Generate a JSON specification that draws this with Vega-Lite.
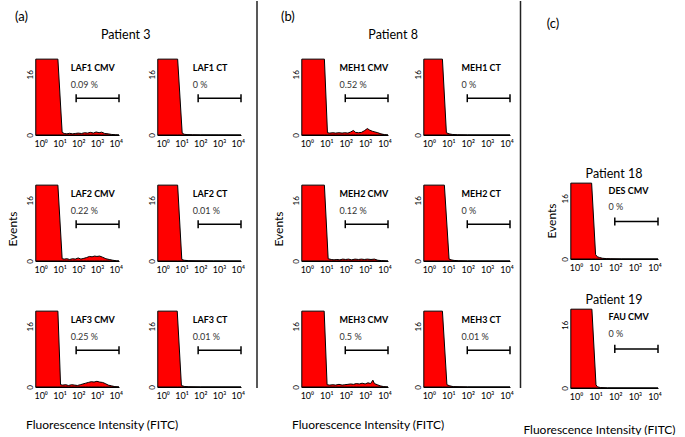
{
  "$schema": "https://vega.github.io/schema/vega-lite/v6.json",
  "padding": {"left": 6, "top": 0, "right": 0, "bottom": 0},
  "background": "white",
  "config": {
    "font": "Lato",
    "view": {"stroke": null},
    "title": {"fontSize": 12.5, "fontWeight": "normal", "color": "black"},
    "header": {"titleFontSize": 12, "titleFontWeight": "normal", "titleColor": "black", "labelPadding": 0}
  },
  "datasets": {
    "Apos": [
      {"p": "LAF1 CMV", "r": 1, "c": 1}, {"p": "LAF1 CT", "r": 1, "c": 2},
      {"p": "LAF2 CMV", "r": 2, "c": 1}, {"p": "LAF2 CT", "r": 2, "c": 2},
      {"p": "LAF3 CMV", "r": 3, "c": 1}, {"p": "LAF3 CT", "r": 3, "c": 2}
    ],
    "Bpos": [
      {"p": "MEH1 CMV", "r": 1, "c": 1}, {"p": "MEH1 CT", "r": 1, "c": 2},
      {"p": "MEH2 CMV", "r": 2, "c": 1}, {"p": "MEH2 CT", "r": 2, "c": 2},
      {"p": "MEH3 CMV", "r": 3, "c": 1}, {"p": "MEH3 CT", "r": 3, "c": 2}
    ],
    "A": [
      {"p": "LAF1 CMV", "k": "l", "pct": "0.09 %"},
      {"p": "LAF1 CT", "k": "l", "pct": "0 %"},
      {"p": "LAF2 CMV", "k": "l", "pct": "0.22 %"},
      {"p": "LAF2 CT", "k": "l", "pct": "0.01 %"},
      {"p": "LAF3 CMV", "k": "l", "pct": "0.25 %"},
      {"p": "LAF3 CT", "k": "l", "pct": "0.01 %"},
      {"p": "LAF1 CMV", "fl": 0.55, "ev": 20}, {"p": "LAF1 CMV", "fl": 8.3, "ev": 20}, {"p": "LAF1 CMV", "fl": 14, "ev": 0.7},
      {"p": "LAF1 CMV", "fl": 18, "ev": 0.4}, {"p": "LAF1 CMV", "fl": 25, "ev": 0.3}, {"p": "LAF1 CMV", "fl": 35, "ev": 0.45},
      {"p": "LAF1 CMV", "fl": 50, "ev": 0.3}, {"p": "LAF1 CMV", "fl": 70, "ev": 0.4}, {"p": "LAF1 CMV", "fl": 100, "ev": 0.5},
      {"p": "LAF1 CMV", "fl": 150, "ev": 0.4}, {"p": "LAF1 CMV", "fl": 220, "ev": 0.6}, {"p": "LAF1 CMV", "fl": 320, "ev": 0.5},
      {"p": "LAF1 CMV", "fl": 450, "ev": 0.7}, {"p": "LAF1 CMV", "fl": 650, "ev": 0.5}, {"p": "LAF1 CMV", "fl": 900, "ev": 0.8},
      {"p": "LAF1 CMV", "fl": 1300, "ev": 0.6}, {"p": "LAF1 CMV", "fl": 1800, "ev": 0.75}, {"p": "LAF1 CMV", "fl": 2600, "ev": 0.4},
      {"p": "LAF1 CMV", "fl": 4000, "ev": 0.3}, {"p": "LAF1 CMV", "fl": 6000, "ev": 0.15}, {"p": "LAF1 CMV", "fl": 10000, "ev": 0.05},
      {"p": "LAF1 CMV", "fl": 15000, "ev": 0},
      {"p": "LAF1 CT", "fl": 0.55, "ev": 20}, {"p": "LAF1 CT", "fl": 6.3, "ev": 20}, {"p": "LAF1 CT", "fl": 11, "ev": 0.5},
      {"p": "LAF1 CT", "fl": 14, "ev": 0.2}, {"p": "LAF1 CT", "fl": 20, "ev": 0.1}, {"p": "LAF1 CT", "fl": 40, "ev": 0.05},
      {"p": "LAF1 CT", "fl": 100, "ev": 0.03}, {"p": "LAF1 CT", "fl": 1000, "ev": 0.02}, {"p": "LAF1 CT", "fl": 15000, "ev": 0},
      {"p": "LAF2 CMV", "fl": 0.55, "ev": 20}, {"p": "LAF2 CMV", "fl": 8.3, "ev": 20}, {"p": "LAF2 CMV", "fl": 14, "ev": 0.6},
      {"p": "LAF2 CMV", "fl": 18, "ev": 0.5}, {"p": "LAF2 CMV", "fl": 25, "ev": 0.6}, {"p": "LAF2 CMV", "fl": 35, "ev": 0.4},
      {"p": "LAF2 CMV", "fl": 50, "ev": 0.6}, {"p": "LAF2 CMV", "fl": 70, "ev": 0.5}, {"p": "LAF2 CMV", "fl": 100, "ev": 0.8},
      {"p": "LAF2 CMV", "fl": 140, "ev": 0.5}, {"p": "LAF2 CMV", "fl": 200, "ev": 0.7}, {"p": "LAF2 CMV", "fl": 280, "ev": 0.9},
      {"p": "LAF2 CMV", "fl": 400, "ev": 1.2}, {"p": "LAF2 CMV", "fl": 550, "ev": 1.1}, {"p": "LAF2 CMV", "fl": 750, "ev": 1.3},
      {"p": "LAF2 CMV", "fl": 1000, "ev": 1.2}, {"p": "LAF2 CMV", "fl": 1400, "ev": 1.3}, {"p": "LAF2 CMV", "fl": 2000, "ev": 1.0},
      {"p": "LAF2 CMV", "fl": 3000, "ev": 0.6}, {"p": "LAF2 CMV", "fl": 4500, "ev": 0.4}, {"p": "LAF2 CMV", "fl": 7000, "ev": 0.2},
      {"p": "LAF2 CMV", "fl": 11000, "ev": 0.05}, {"p": "LAF2 CMV", "fl": 15000, "ev": 0},
      {"p": "LAF2 CT", "fl": 0.55, "ev": 20}, {"p": "LAF2 CT", "fl": 6.3, "ev": 20}, {"p": "LAF2 CT", "fl": 10.5, "ev": 0.4},
      {"p": "LAF2 CT", "fl": 14, "ev": 0.2}, {"p": "LAF2 CT", "fl": 25, "ev": 0.08}, {"p": "LAF2 CT", "fl": 60, "ev": 0.04},
      {"p": "LAF2 CT", "fl": 500, "ev": 0.02}, {"p": "LAF2 CT", "fl": 15000, "ev": 0},
      {"p": "LAF3 CMV", "fl": 0.55, "ev": 20}, {"p": "LAF3 CMV", "fl": 8.3, "ev": 20}, {"p": "LAF3 CMV", "fl": 11.5, "ev": 0.6},
      {"p": "LAF3 CMV", "fl": 15, "ev": 0.5}, {"p": "LAF3 CMV", "fl": 22, "ev": 0.6}, {"p": "LAF3 CMV", "fl": 30, "ev": 0.4},
      {"p": "LAF3 CMV", "fl": 45, "ev": 0.6}, {"p": "LAF3 CMV", "fl": 65, "ev": 0.5}, {"p": "LAF3 CMV", "fl": 90, "ev": 0.4},
      {"p": "LAF3 CMV", "fl": 130, "ev": 0.6}, {"p": "LAF3 CMV", "fl": 180, "ev": 0.8}, {"p": "LAF3 CMV", "fl": 250, "ev": 1.0},
      {"p": "LAF3 CMV", "fl": 350, "ev": 1.2}, {"p": "LAF3 CMV", "fl": 500, "ev": 1.4}, {"p": "LAF3 CMV", "fl": 700, "ev": 1.3},
      {"p": "LAF3 CMV", "fl": 1000, "ev": 1.5}, {"p": "LAF3 CMV", "fl": 1400, "ev": 1.3}, {"p": "LAF3 CMV", "fl": 2000, "ev": 1.2},
      {"p": "LAF3 CMV", "fl": 2800, "ev": 0.9}, {"p": "LAF3 CMV", "fl": 4000, "ev": 0.5}, {"p": "LAF3 CMV", "fl": 6000, "ev": 0.3},
      {"p": "LAF3 CMV", "fl": 9000, "ev": 0.1}, {"p": "LAF3 CMV", "fl": 15000, "ev": 0},
      {"p": "LAF3 CT", "fl": 0.55, "ev": 20}, {"p": "LAF3 CT", "fl": 6, "ev": 20}, {"p": "LAF3 CT", "fl": 10, "ev": 0.4},
      {"p": "LAF3 CT", "fl": 14, "ev": 0.15}, {"p": "LAF3 CT", "fl": 25, "ev": 0.05}, {"p": "LAF3 CT", "fl": 100, "ev": 0.02},
      {"p": "LAF3 CT", "fl": 15000, "ev": 0}
    ],
    "B": [
      {"p": "MEH1 CMV", "k": "l", "pct": "0.52 %"},
      {"p": "MEH1 CT", "k": "l", "pct": "0 %"},
      {"p": "MEH2 CMV", "k": "l", "pct": "0.12 %"},
      {"p": "MEH2 CT", "k": "l", "pct": "0 %"},
      {"p": "MEH3 CMV", "k": "l", "pct": "0.5 %"},
      {"p": "MEH3 CT", "k": "l", "pct": "0.01 %"},
      {"p": "MEH1 CMV", "fl": 0.55, "ev": 20}, {"p": "MEH1 CMV", "fl": 8, "ev": 20}, {"p": "MEH1 CMV", "fl": 11.5, "ev": 0.6},
      {"p": "MEH1 CMV", "fl": 15, "ev": 0.5}, {"p": "MEH1 CMV", "fl": 22, "ev": 0.6}, {"p": "MEH1 CMV", "fl": 30, "ev": 0.5},
      {"p": "MEH1 CMV", "fl": 45, "ev": 0.6}, {"p": "MEH1 CMV", "fl": 65, "ev": 0.5}, {"p": "MEH1 CMV", "fl": 90, "ev": 0.6},
      {"p": "MEH1 CMV", "fl": 130, "ev": 0.5}, {"p": "MEH1 CMV", "fl": 180, "ev": 0.8}, {"p": "MEH1 CMV", "fl": 250, "ev": 1.2},
      {"p": "MEH1 CMV", "fl": 320, "ev": 0.7}, {"p": "MEH1 CMV", "fl": 450, "ev": 0.6}, {"p": "MEH1 CMV", "fl": 650, "ev": 0.7},
      {"p": "MEH1 CMV", "fl": 900, "ev": 1.1}, {"p": "MEH1 CMV", "fl": 1300, "ev": 1.7}, {"p": "MEH1 CMV", "fl": 1700, "ev": 1.3},
      {"p": "MEH1 CMV", "fl": 2300, "ev": 1.0}, {"p": "MEH1 CMV", "fl": 3200, "ev": 0.8}, {"p": "MEH1 CMV", "fl": 4500, "ev": 0.6},
      {"p": "MEH1 CMV", "fl": 6500, "ev": 0.3}, {"p": "MEH1 CMV", "fl": 10000, "ev": 0.1}, {"p": "MEH1 CMV", "fl": 15000, "ev": 0},
      {"p": "MEH1 CT", "fl": 0.55, "ev": 20}, {"p": "MEH1 CT", "fl": 5, "ev": 20}, {"p": "MEH1 CT", "fl": 8, "ev": 0.6},
      {"p": "MEH1 CT", "fl": 11, "ev": 0.3}, {"p": "MEH1 CT", "fl": 16, "ev": 0.15}, {"p": "MEH1 CT", "fl": 30, "ev": 0.05},
      {"p": "MEH1 CT", "fl": 100, "ev": 0.02}, {"p": "MEH1 CT", "fl": 15000, "ev": 0},
      {"p": "MEH2 CMV", "fl": 0.55, "ev": 20}, {"p": "MEH2 CMV", "fl": 8, "ev": 20}, {"p": "MEH2 CMV", "fl": 12.5, "ev": 0.6},
      {"p": "MEH2 CMV", "fl": 18, "ev": 0.4}, {"p": "MEH2 CMV", "fl": 25, "ev": 0.3}, {"p": "MEH2 CMV", "fl": 35, "ev": 0.4},
      {"p": "MEH2 CMV", "fl": 50, "ev": 0.3}, {"p": "MEH2 CMV", "fl": 70, "ev": 0.5}, {"p": "MEH2 CMV", "fl": 100, "ev": 0.4},
      {"p": "MEH2 CMV", "fl": 140, "ev": 0.5}, {"p": "MEH2 CMV", "fl": 200, "ev": 0.3}, {"p": "MEH2 CMV", "fl": 300, "ev": 0.5},
      {"p": "MEH2 CMV", "fl": 450, "ev": 0.4}, {"p": "MEH2 CMV", "fl": 650, "ev": 0.5}, {"p": "MEH2 CMV", "fl": 900, "ev": 0.4},
      {"p": "MEH2 CMV", "fl": 1300, "ev": 0.5}, {"p": "MEH2 CMV", "fl": 2000, "ev": 0.4}, {"p": "MEH2 CMV", "fl": 3000, "ev": 0.5},
      {"p": "MEH2 CMV", "fl": 4500, "ev": 0.2}, {"p": "MEH2 CMV", "fl": 7000, "ev": 0.1}, {"p": "MEH2 CMV", "fl": 15000, "ev": 0},
      {"p": "MEH2 CT", "fl": 0.55, "ev": 20}, {"p": "MEH2 CT", "fl": 6.3, "ev": 20}, {"p": "MEH2 CT", "fl": 11, "ev": 0.5},
      {"p": "MEH2 CT", "fl": 14, "ev": 0.3}, {"p": "MEH2 CT", "fl": 20, "ev": 0.15}, {"p": "MEH2 CT", "fl": 35, "ev": 0.05},
      {"p": "MEH2 CT", "fl": 100, "ev": 0.02}, {"p": "MEH2 CT", "fl": 15000, "ev": 0},
      {"p": "MEH3 CMV", "fl": 0.55, "ev": 20}, {"p": "MEH3 CMV", "fl": 7.8, "ev": 20}, {"p": "MEH3 CMV", "fl": 11, "ev": 0.6},
      {"p": "MEH3 CMV", "fl": 15, "ev": 0.5}, {"p": "MEH3 CMV", "fl": 22, "ev": 0.6}, {"p": "MEH3 CMV", "fl": 30, "ev": 0.5},
      {"p": "MEH3 CMV", "fl": 45, "ev": 0.7}, {"p": "MEH3 CMV", "fl": 65, "ev": 0.5}, {"p": "MEH3 CMV", "fl": 90, "ev": 0.6},
      {"p": "MEH3 CMV", "fl": 130, "ev": 0.7}, {"p": "MEH3 CMV", "fl": 180, "ev": 0.8}, {"p": "MEH3 CMV", "fl": 250, "ev": 0.7},
      {"p": "MEH3 CMV", "fl": 350, "ev": 0.9}, {"p": "MEH3 CMV", "fl": 500, "ev": 0.8}, {"p": "MEH3 CMV", "fl": 700, "ev": 1.0},
      {"p": "MEH3 CMV", "fl": 1000, "ev": 0.8}, {"p": "MEH3 CMV", "fl": 1400, "ev": 1.1}, {"p": "MEH3 CMV", "fl": 1900, "ev": 0.9},
      {"p": "MEH3 CMV", "fl": 2500, "ev": 1.8}, {"p": "MEH3 CMV", "fl": 3000, "ev": 0.9}, {"p": "MEH3 CMV", "fl": 4200, "ev": 0.6},
      {"p": "MEH3 CMV", "fl": 6000, "ev": 0.3}, {"p": "MEH3 CMV", "fl": 9000, "ev": 0.1}, {"p": "MEH3 CMV", "fl": 15000, "ev": 0},
      {"p": "MEH3 CT", "fl": 0.55, "ev": 20}, {"p": "MEH3 CT", "fl": 5, "ev": 20}, {"p": "MEH3 CT", "fl": 8.5, "ev": 0.6},
      {"p": "MEH3 CT", "fl": 12, "ev": 0.3}, {"p": "MEH3 CT", "fl": 18, "ev": 0.1}, {"p": "MEH3 CT", "fl": 40, "ev": 0.05},
      {"p": "MEH3 CT", "fl": 100, "ev": 0.02}, {"p": "MEH3 CT", "fl": 15000, "ev": 0}
    ],
    "C": [
      {"p": "DES CMV", "k": "l", "pct": "0 %"},
      {"p": "FAU CMV", "k": "l", "pct": "0 %"},
      {"p": "DES CMV", "fl": 0.55, "ev": 20}, {"p": "DES CMV", "fl": 6.3, "ev": 20}, {"p": "DES CMV", "fl": 10, "ev": 1.2},
      {"p": "DES CMV", "fl": 12, "ev": 0.6}, {"p": "DES CMV", "fl": 16, "ev": 0.4}, {"p": "DES CMV", "fl": 22, "ev": 0.2},
      {"p": "DES CMV", "fl": 35, "ev": 0.1}, {"p": "DES CMV", "fl": 60, "ev": 0.05}, {"p": "DES CMV", "fl": 200, "ev": 0.02},
      {"p": "DES CMV", "fl": 15000, "ev": 0},
      {"p": "FAU CMV", "fl": 0.55, "ev": 20}, {"p": "FAU CMV", "fl": 6.5, "ev": 20}, {"p": "FAU CMV", "fl": 10.5, "ev": 0.8},
      {"p": "FAU CMV", "fl": 12.5, "ev": 0.3}, {"p": "FAU CMV", "fl": 18, "ev": 0.1}, {"p": "FAU CMV", "fl": 40, "ev": 0.03},
      {"p": "FAU CMV", "fl": 15000, "ev": 0}
    ]
  },
  "spacing": 0,
  "hconcat": [
    {
      "title": {"text": "(a)", "anchor": "start", "dx": 8, "offset": 5, "fontSize": 13},
      "vconcat": [
        {
          "data": {"name": "A"},
          "transform": [{"lookup": "p", "from": {"data": {"name": "Apos"}, "key": "p", "fields": ["r", "c"]}}],
          "title": {"text": "Patient 3", "anchor": "middle", "offset": 17},
          "facet": {
            "row": {"field": "r", "type": "ordinal", "title": "Events", "header": {"labels": false, "titlePadding": -4}},
            "column": {"field": "c", "type": "ordinal", "title": "Fluorescence Intensity (FITC)", "header": {"labels": false, "orient": "bottom", "titleAnchor": "start", "titlePadding": 10}}
          },
          "spacing": {"row": 36, "column": 25},
          "resolve": {"axis": {"x": "independent", "y": "independent"}},
          "spec": {
            "width": 84,
            "height": 77,
            "layer": [
              {
                "transform": [{"filter": "datum.k !== 'l'"}],
                "mark": {"type": "area", "fill": "#ff0000", "stroke": "black", "strokeWidth": 1, "clip": true},
                "encoding": {
                  "x": {"field": "fl", "type": "quantitative", "scale": {"type": "log", "domain": [0.5, 15000], "nice": false},
                    "axis": {"title": null, "values": [1, 10, 100, 1000, 10000], "labelExpr": "'10' + ['⁰','¹','²','³','⁴'][round(log(datum.value)/LN10)]", "ticks": false, "tickSize": 0, "grid": false, "domainColor": "black", "labelFontSize": 9, "labelColor": "black", "labelPadding": 4, "labelFlush": false, "labelOverlap": false}},
                  "y": {"field": "ev", "type": "quantitative", "scale": {"domain": [0, 20.3], "nice": false, "zero": true},
                    "axis": {"title": null, "values": [0, 16], "labelAngle": 270, "labelAlign": "center", "labelBaseline": "bottom", "ticks": false, "tickSize": 0, "domain": false, "grid": false, "labelFontSize": 8, "labelColor": "black", "labelPadding": 1, "labelFlush": false}}
                }
              },
              {
                "transform": [{"filter": "datum.k === 'l'"}],
                "mark": {"type": "rule", "color": "black", "strokeWidth": 1.5},
                "encoding": {"x": {"datum": 78, "type": "quantitative"}, "x2": {"datum": 15000}, "y": {"datum": 9.7, "type": "quantitative"}}
              },
              {
                "transform": [{"filter": "datum.k === 'l'"}],
                "mark": {"type": "rule", "color": "black", "strokeWidth": 1.5},
                "encoding": {"x": {"datum": 78, "type": "quantitative"}, "y": {"datum": 8.65, "type": "quantitative"}, "y2": {"datum": 10.75}}
              },
              {
                "transform": [{"filter": "datum.k === 'l'"}],
                "mark": {"type": "rule", "color": "black", "strokeWidth": 1.5},
                "encoding": {"x": {"datum": 15000, "type": "quantitative"}, "y": {"datum": 8.65, "type": "quantitative"}, "y2": {"datum": 10.75}}
              },
              {
                "transform": [{"filter": "datum.k === 'l'"}],
                "mark": {"type": "text", "align": "left", "baseline": "middle", "fontWeight": "bold", "fontSize": 9, "color": "black"},
                "encoding": {"x": {"datum": 40, "type": "quantitative"}, "y": {"datum": 17.7, "type": "quantitative"}, "text": {"field": "p"}}
              },
              {
                "transform": [{"filter": "datum.k === 'l'"}],
                "mark": {"type": "text", "align": "left", "baseline": "middle", "fontSize": 9, "color": "#333"},
                "encoding": {"x": {"datum": 40, "type": "quantitative"}, "y": {"datum": 13.3, "type": "quantitative"}, "text": {"field": "pct"}}
              }
            ]
          }
        }
      ]
    },
    {
      "data": {"values": [{}]},
      "width": 27,
      "height": 330,
      "mark": {"type": "rule", "color": "#222", "strokeWidth": 1.5},
      "encoding": {
        "x": {"datum": 12, "type": "quantitative", "scale": {"domain": [0, 27], "nice": false}, "axis": null},
        "y": {"datum": 0, "type": "quantitative", "scale": {"domain": [0, 1], "nice": false}, "axis": null},
        "y2": {"datum": 1.1727}
      }
    },
    {
      "title": {"text": "(b)", "anchor": "start", "dx": 8, "offset": 5, "fontSize": 13},
      "vconcat": [
        {
          "data": {"name": "B"},
          "transform": [{"lookup": "p", "from": {"data": {"name": "Bpos"}, "key": "p", "fields": ["r", "c"]}}],
          "title": {"text": "Patient 8", "anchor": "middle", "offset": 17},
          "facet": {
            "row": {"field": "r", "type": "ordinal", "title": "Events", "header": {"labels": false, "titlePadding": -4}},
            "column": {"field": "c", "type": "ordinal", "title": "Fluorescence Intensity (FITC)", "header": {"labels": false, "orient": "bottom", "titleAnchor": "start", "titlePadding": 10}}
          },
          "spacing": {"row": 36, "column": 22},
          "resolve": {"axis": {"x": "independent", "y": "independent"}},
          "spec": {
            "width": 87,
            "height": 77,
            "layer": [
              {
                "transform": [{"filter": "datum.k !== 'l'"}],
                "mark": {"type": "area", "fill": "#ff0000", "stroke": "black", "strokeWidth": 1, "clip": true},
                "encoding": {
                  "x": {"field": "fl", "type": "quantitative", "scale": {"type": "log", "domain": [0.5, 15000], "nice": false},
                    "axis": {"title": null, "values": [1, 10, 100, 1000, 10000], "labelExpr": "'10' + ['⁰','¹','²','³','⁴'][round(log(datum.value)/LN10)]", "ticks": false, "tickSize": 0, "grid": false, "domainColor": "black", "labelFontSize": 9, "labelColor": "black", "labelPadding": 4, "labelFlush": false, "labelOverlap": false}},
                  "y": {"field": "ev", "type": "quantitative", "scale": {"domain": [0, 20.3], "nice": false, "zero": true},
                    "axis": {"title": null, "values": [0, 16], "labelAngle": 270, "labelAlign": "center", "labelBaseline": "bottom", "ticks": false, "tickSize": 0, "domain": false, "grid": false, "labelFontSize": 8, "labelColor": "black", "labelPadding": 1, "labelFlush": false}}
                }
              },
              {
                "transform": [{"filter": "datum.k === 'l'"}],
                "mark": {"type": "rule", "color": "black", "strokeWidth": 1.5},
                "encoding": {"x": {"datum": 95, "type": "quantitative"}, "x2": {"datum": 15000}, "y": {"datum": 9.7, "type": "quantitative"}}
              },
              {
                "transform": [{"filter": "datum.k === 'l'"}],
                "mark": {"type": "rule", "color": "black", "strokeWidth": 1.5},
                "encoding": {"x": {"datum": 95, "type": "quantitative"}, "y": {"datum": 8.65, "type": "quantitative"}, "y2": {"datum": 10.75}}
              },
              {
                "transform": [{"filter": "datum.k === 'l'"}],
                "mark": {"type": "rule", "color": "black", "strokeWidth": 1.5},
                "encoding": {"x": {"datum": 15000, "type": "quantitative"}, "y": {"datum": 8.65, "type": "quantitative"}, "y2": {"datum": 10.75}}
              },
              {
                "transform": [{"filter": "datum.k === 'l'"}],
                "mark": {"type": "text", "align": "left", "baseline": "middle", "fontWeight": "bold", "fontSize": 9, "color": "black"},
                "encoding": {"x": {"datum": 48, "type": "quantitative"}, "y": {"datum": 17.7, "type": "quantitative"}, "text": {"field": "p"}}
              },
              {
                "transform": [{"filter": "datum.k === 'l'"}],
                "mark": {"type": "text", "align": "left", "baseline": "middle", "fontSize": 9, "color": "#333"},
                "encoding": {"x": {"datum": 48, "type": "quantitative"}, "y": {"datum": 13.3, "type": "quantitative"}, "text": {"field": "pct"}}
              }
            ]
          }
        }
      ]
    },
    {
      "data": {"values": [{}]},
      "width": 7,
      "height": 330,
      "mark": {"type": "rule", "color": "#222", "strokeWidth": 1.5},
      "encoding": {
        "x": {"datum": 6.5, "type": "quantitative", "scale": {"domain": [0, 7], "nice": false}, "axis": null},
        "y": {"datum": 0, "type": "quantitative", "scale": {"domain": [0, 1], "nice": false}, "axis": null},
        "y2": {"datum": 1.1727}
      }
    },
    {
      "title": {"text": "(c)", "anchor": "start", "dx": 24, "offset": 27, "fontSize": 13},
      "spacing": 21,
      "vconcat": [
        {
          "data": {"values": [{}]},
          "width": 88,
          "height": 88,
          "mark": {"type": "rule", "opacity": 0},
          "encoding": {}
        },
        {
          "data": {"name": "C"},
          "transform": [{"filter": "datum.p === 'DES CMV'"}],
          "title": {"text": "Patient 18", "offset": 2},
          "width": 88,
          "height": 77,
          "layer": [
            {
              "transform": [{"filter": "datum.k !== 'l'"}],
              "mark": {"type": "area", "fill": "#ff0000", "stroke": "black", "strokeWidth": 1, "clip": true},
              "encoding": {
                "x": {"field": "fl", "type": "quantitative", "scale": {"type": "log", "domain": [0.5, 15000], "nice": false},
                  "axis": {"title": null, "values": [1, 10, 100, 1000, 10000], "labelExpr": "'10' + ['⁰','¹','²','³','⁴'][round(log(datum.value)/LN10)]", "ticks": false, "tickSize": 0, "grid": false, "domainColor": "black", "labelFontSize": 9, "labelColor": "black", "labelPadding": 4, "labelFlush": false, "labelOverlap": false}},
                "y": {"field": "ev", "type": "quantitative", "scale": {"domain": [0, 20.3], "nice": false, "zero": true},
                  "axis": {"title": "Events", "titleFontSize": 12, "titleFontWeight": "normal", "titleColor": "black", "titlePadding": 3, "values": [0, 16], "labelAngle": 270, "labelAlign": "center", "labelBaseline": "bottom", "ticks": false, "tickSize": 0, "domain": false, "grid": false, "labelFontSize": 8, "labelColor": "black", "labelPadding": 1, "labelFlush": false}}
              }
            },
            {
              "transform": [{"filter": "datum.k === 'l'"}],
              "mark": {"type": "rule", "color": "black", "strokeWidth": 1.5},
              "encoding": {"x": {"datum": 95, "type": "quantitative"}, "x2": {"datum": 15000}, "y": {"datum": 9.9, "type": "quantitative"}}
            },
            {
              "transform": [{"filter": "datum.k === 'l'"}],
              "mark": {"type": "rule", "color": "black", "strokeWidth": 1.5},
              "encoding": {"x": {"datum": 95, "type": "quantitative"}, "y": {"datum": 8.85, "type": "quantitative"}, "y2": {"datum": 10.95}}
            },
            {
              "transform": [{"filter": "datum.k === 'l'"}],
              "mark": {"type": "rule", "color": "black", "strokeWidth": 1.5},
              "encoding": {"x": {"datum": 15000, "type": "quantitative"}, "y": {"datum": 8.85, "type": "quantitative"}, "y2": {"datum": 10.95}}
            },
            {
              "transform": [{"filter": "datum.k === 'l'"}],
              "mark": {"type": "text", "align": "left", "baseline": "middle", "fontWeight": "bold", "fontSize": 9, "color": "black"},
              "encoding": {"x": {"datum": 46, "type": "quantitative"}, "y": {"datum": 17.9, "type": "quantitative"}, "text": {"field": "p"}}
            },
            {
              "transform": [{"filter": "datum.k === 'l'"}],
              "mark": {"type": "text", "align": "left", "baseline": "middle", "fontSize": 9, "color": "#333"},
              "encoding": {"x": {"datum": 46, "type": "quantitative"}, "y": {"datum": 13.8, "type": "quantitative"}, "text": {"field": "pct"}}
            }
          ]
        },
        {
          "data": {"name": "C"},
          "transform": [{"filter": "datum.p === 'FAU CMV'"}],
          "title": {"text": "Patient 19", "offset": 2},
          "width": 88,
          "height": 80,
          "layer": [
            {
              "transform": [{"filter": "datum.k !== 'l'"}],
              "mark": {"type": "area", "fill": "#ff0000", "stroke": "black", "strokeWidth": 1, "clip": true},
              "encoding": {
                "x": {"field": "fl", "type": "quantitative", "scale": {"type": "log", "domain": [0.5, 15000], "nice": false},
                  "axis": {"title": "Fluorescence Intensity (FITC)", "titleFontSize": 12, "titleFontWeight": "normal", "titleColor": "black", "titlePadding": 23, "titleX": 29, "titleAlign": "center", "values": [1, 10, 100, 1000, 10000], "labelExpr": "'10' + ['⁰','¹','²','³','⁴'][round(log(datum.value)/LN10)]", "ticks": false, "tickSize": 0, "grid": false, "domainColor": "black", "labelFontSize": 9, "labelColor": "black", "labelPadding": 4, "labelFlush": false, "labelOverlap": false}},
                "y": {"field": "ev", "type": "quantitative", "scale": {"domain": [0, 20.3], "nice": false, "zero": true},
                  "axis": {"title": null, "values": [0, 16], "labelAngle": 270, "labelAlign": "center", "labelBaseline": "bottom", "ticks": false, "tickSize": 0, "domain": false, "grid": false, "labelFontSize": 8, "labelColor": "black", "labelPadding": 1, "labelFlush": false}}
              }
            },
            {
              "transform": [{"filter": "datum.k === 'l'"}],
              "mark": {"type": "rule", "color": "black", "strokeWidth": 1.5},
              "encoding": {"x": {"datum": 95, "type": "quantitative"}, "x2": {"datum": 15000}, "y": {"datum": 9.9, "type": "quantitative"}}
            },
            {
              "transform": [{"filter": "datum.k === 'l'"}],
              "mark": {"type": "rule", "color": "black", "strokeWidth": 1.5},
              "encoding": {"x": {"datum": 95, "type": "quantitative"}, "y": {"datum": 8.85, "type": "quantitative"}, "y2": {"datum": 10.95}}
            },
            {
              "transform": [{"filter": "datum.k === 'l'"}],
              "mark": {"type": "rule", "color": "black", "strokeWidth": 1.5},
              "encoding": {"x": {"datum": 15000, "type": "quantitative"}, "y": {"datum": 8.85, "type": "quantitative"}, "y2": {"datum": 10.95}}
            },
            {
              "transform": [{"filter": "datum.k === 'l'"}],
              "mark": {"type": "text", "align": "left", "baseline": "middle", "fontWeight": "bold", "fontSize": 9, "color": "black"},
              "encoding": {"x": {"datum": 46, "type": "quantitative"}, "y": {"datum": 17.9, "type": "quantitative"}, "text": {"field": "p"}}
            },
            {
              "transform": [{"filter": "datum.k === 'l'"}],
              "mark": {"type": "text", "align": "left", "baseline": "middle", "fontSize": 9, "color": "#333"},
              "encoding": {"x": {"datum": 46, "type": "quantitative"}, "y": {"datum": 13.8, "type": "quantitative"}, "text": {"field": "pct"}}
            }
          ]
        }
      ]
    }
  ]
}
